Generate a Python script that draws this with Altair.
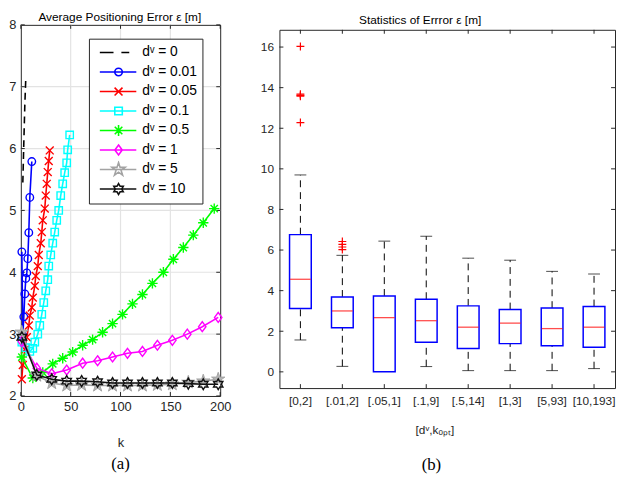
import altair as alt
import pandas as pd

# ---------------- data: panel (a) ----------------
SERIES = ["dᵛ = 0", "dᵛ = 0.01", "dᵛ = 0.05", "dᵛ = 0.1", "dᵛ = 0.5", "dᵛ = 1", "dᵛ = 5", "dᵛ = 10"]
COLORS = ["#000000", "#0000ff", "#ff0000", "#00ffff", "#00ff00", "#ff00ff", "#a3a3a3", "#111111"]

K_D0 = [2, 3, 4, 5]
V_D0 = [5.45, 6.1, 6.7, 7.15]
K_D001 = [1, 2, 3, 4, 5, 6, 7, 8, 9, 11]
V_D001 = [4.33, 2.98, 3.28, 3.65, 3.9, 3.99, 4.22, 4.64, 5.21, 5.79]
K_D005 = [1, 2, 4, 6, 8, 9, 11, 12, 14, 15, 17, 18, 20, 21, 22, 24, 25, 26, 27, 28, 29]
V_D005 = [2.27, 2.5, 2.75, 2.95, 3.14, 3.30, 3.43, 3.59, 3.78, 3.94, 4.10, 4.28, 4.47, 4.65,
          4.84, 5.03, 5.24, 5.43, 5.62, 5.8, 5.97]
K_D01 = [1, 5, 9, 12, 14, 17, 19, 21, 23, 25, 27, 28, 30, 32, 34, 36, 38, 40, 42, 44, 46, 47, 49]
V_D01 = [2.87, 2.78, 2.72, 2.77, 2.87, 3.0, 3.14, 3.32, 3.51, 3.70, 3.88, 4.10, 4.28, 4.47,
         4.65, 4.84, 5.0, 5.24, 5.43, 5.61, 5.77, 5.98, 6.22]
K_D05 = [1, 12, 22, 32, 42, 52, 62, 72, 82, 92, 102, 112, 122, 132, 143, 153, 163, 173, 183, 194]
V_D05 = [2.63, 2.29, 2.38, 2.52, 2.61, 2.71, 2.82, 2.91, 3.03, 3.17, 3.32, 3.49, 3.64, 3.82,
         4.0, 4.21, 4.40, 4.60, 4.80, 5.03]
K_D1 = [1, 16, 31, 46, 62, 77, 92, 107, 122, 137, 152, 167, 182, 198]
V_D1 = [2.88, 2.45, 2.36, 2.42, 2.53, 2.57, 2.63, 2.69, 2.72, 2.82, 2.90, 3.0, 3.12, 3.27]
K_D5 = [1, 16, 31, 46, 61, 77, 92, 107, 122, 137, 152, 168, 183, 198]
V_D5 = [3.03, 2.33, 2.21, 2.17, 2.18, 2.17, 2.17, 2.17, 2.17, 2.18, 2.19, 2.22, 2.24, 2.27]
K_D10 = [1, 16, 31, 46, 61, 77, 92, 107, 122, 137, 152, 168, 183, 198]
V_D10 = [2.95, 2.34, 2.27, 2.24, 2.24, 2.23, 2.21, 2.21, 2.21, 2.21, 2.21, 2.20, 2.19, 2.19]

X_TICKS = [0, 50, 100, 150, 200]
Y_TICKS = [2, 3, 4, 5, 6, 7, 8]
GRID_X = [50, 100, 150]
GRID_Y = [3, 4, 5, 6, 7]

# ---------------- data: panel (b) ----------------
BOX_CATS = ["[0,2]", "[.01,2]", "[.05,1]", "[.1,9]", "[.5,14]", "[1,3]", "[5,93]", "[10,193]"]
BOX_LO = [1.57, 0.27, 0.0, 0.26, 0.06, 0.06, 0.06, 0.16]
BOX_Q1 = [3.12, 2.17, 0.0, 1.46, 1.15, 1.39, 1.28, 1.21]
BOX_MED = [4.56, 3.0, 2.67, 2.52, 2.2, 2.4, 2.13, 2.2]
BOX_Q3 = [6.76, 3.69, 3.74, 3.58, 3.25, 3.07, 3.14, 3.22]
BOX_HI = [9.7, 5.74, 6.44, 6.68, 5.6, 5.5, 4.95, 4.82]
OUT_CAT = ["[0,2]", "[0,2]", "[0,2]", "[0,2]", "[0,2]", "[.01,2]", "[.01,2]", "[.01,2]", "[.01,2]"]
OUT_VAL = [16.03, 13.68, 13.62, 13.58, 12.28, 6.02, 6.15, 6.28, 6.42]
Y2_TICKS = [0, 2, 4, 6, 8, 10, 12, 14, 16]

# ---------------- styles ----------------
FONT = "Liberation Sans"
AXC = "#262626"
GRIDC = "#e3e3e3"

def poly(pts, closed=True):
    s = "M" + "L".join(f"{x:.3f},{y:.3f}" for x, y in pts)
    return s + ("Z" if closed else "")

STAR5 = [(0, -1), (0.225, -0.309), (0.951, -0.309), (0.363, 0.118), (0.588, 0.809), (0, 0.382),
         (-0.588, 0.809), (-0.363, 0.118), (-0.951, -0.309), (-0.225, -0.309)]
STAR6 = [(0, -1), (0.289, -0.5), (0.866, -0.5), (0.577, 0), (0.866, 0.5), (0.289, 0.5), (0, 1),
         (-0.289, 0.5), (-0.866, 0.5), (-0.577, 0), (-0.866, -0.5), (-0.289, -0.5)]
DIAM = [(0, -1), (0.75, 0), (0, 1), (-0.75, 0)]
SQ = [(-1, -1), (1, -1), (1, 1), (-1, 1)]
XSEGS = [[(-1, -1), (1, 1)], [(-1, 1), (1, -1)]]
ASTSEGS = [[(0, -1), (0, 1)], [(-1, 0), (1, 0)], [(-0.7, -0.7), (0.7, 0.7)], [(-0.7, 0.7), (0.7, -0.7)]]
PLUSSEGS = [[(-1, 0), (1, 0)], [(0, -1), (0, 1)]]

def segs_path(segs, s=1.0, cx=0.0):
    return "".join(poly([(cx + x * s, y * s) for x, y in seg], closed=False) for seg in segs)

def poly_path(pts, s=1.0, cx=0.0):
    return poly([(cx + x * s, y * s) for x, y in pts])

def circ_path(r, cx=0.0):
    return f"M{cx + r:.3f},0A{r:.3f},{r:.3f} 0 1,1 {cx - r:.3f},0A{r:.3f},{r:.3f} 0 1,1 {cx + r:.3f},0Z"

MARKERS = [
    None,
    ("circle", 58),
    (segs_path(XSEGS), 64),
    ("square", 56),
    (segs_path(ASTSEGS), 110),
    (poly_path(DIAM), 100),
    (poly_path(STAR5), 200),
    (poly_path(STAR6), 121),
]

U = 21.0
CX = 3 / U
LINE = "M-0.76,0L1,0"
LEG_PATHS = [
    "M-0.76,0L-0.1,0M0.28,0L0.66,0",
    LINE + circ_path(3.8 / U, CX),
    LINE + segs_path(XSEGS, 4 / U, CX),
    LINE + poly_path(SQ, 3.8 / U, CX),
    LINE + segs_path(ASTSEGS, 5.5 / U, CX),
    LINE + poly_path(DIAM, 5 / U, CX),
    LINE + poly_path(STAR5, 7 / U, CX),
    LINE + poly_path(STAR6, 5.5 / U, CX),
]

# ---------------- panel (a) ----------------
W1, H1 = 202, 376
xsc = alt.Scale(domain=[0, 200], nice=False, zero=False)
ysc = alt.Scale(domain=[2, 8], nice=False, zero=False)
AX_X = alt.Axis(values=X_TICKS, grid=False, ticks=False, domain=False, labelPadding=5, labelFlush=False,
                title="k", titlePadding=23, labelFontSize=13, titleFontSize=13)
AX_Y = alt.Axis(values=Y_TICKS, grid=False, ticks=False, domain=False, labelPadding=5,
                title=None, labelFontSize=13)

def XA():
    return alt.X("k:Q", scale=xsc, axis=AX_X)

def YA():
    return alt.Y("v:Q", scale=ysc, axis=AX_Y)

layers_a = [
    alt.Chart(pd.DataFrame({"k": GRID_X})).mark_rule(color=GRIDC, strokeWidth=1.2).encode(
        x=XA(), y=alt.value(0), y2=alt.value(H1)),
    alt.Chart(pd.DataFrame({"v": GRID_Y})).mark_rule(color=GRIDC, strokeWidth=1.2).encode(
        y=YA(), x=alt.value(0), x2=alt.value(W1)),
    alt.Chart(pd.DataFrame({"k": X_TICKS})).mark_rule(color=AXC).encode(
        x=XA(), y=alt.value(H1 - 4), y2=alt.value(H1)),
    alt.Chart(pd.DataFrame({"k": X_TICKS})).mark_rule(color=AXC).encode(
        x=XA(), y=alt.value(0), y2=alt.value(4)),
    alt.Chart(pd.DataFrame({"v": Y_TICKS})).mark_rule(color=AXC).encode(
        y=YA(), x=alt.value(0), x2=alt.value(4)),
    alt.Chart(pd.DataFrame({"v": Y_TICKS})).mark_rule(color=AXC).encode(
        y=YA(), x=alt.value(W1 - 4), x2=alt.value(W1)),
]

DATA_A = [(K_D0, V_D0), (K_D001, V_D001), (K_D005, V_D005), (K_D01, V_D01),
          (K_D05, V_D05), (K_D1, V_D1), (K_D5, V_D5), (K_D10, V_D10)]

for i, (ks, vs) in enumerate(DATA_A):
    df = pd.DataFrame({"k": ks, "v": vs})
    color = COLORS[i]
    if i == 0:
        layers_a.append(alt.Chart(df).mark_line(color=color, strokeWidth=1.6, strokeDash=[7, 5]).encode(
            x=XA(), y=YA()))
        continue
    layers_a.append(alt.Chart(df).mark_line(color=color, strokeWidth=1.6).encode(x=XA(), y=YA()))
    shape, size = MARKERS[i]
    if i == 6:
        pm = alt.Chart(df).mark_point(shape=shape, size=size, filled=True, fill="#b5b5b5",
                                      stroke="#a3a3a3", strokeWidth=1, opacity=1)
    else:
        pm = alt.Chart(df).mark_point(shape=shape, size=size, filled=False, color=color,
                                      strokeWidth=1.4, opacity=1)
    layers_a.append(pm.encode(x=XA(), y=YA()))

LEG = alt.Legend(title=None, orient="none", legendX=69, legendY=14, symbolSize=int(U * 2) ** 2,
                 symbolStrokeWidth=1.6, symbolOpacity=1, symbolFillColor="transparent",
                 labelFontSize=14, labelFont=FONT, labelColor="#000000", labelOffset=5,
                 clipHeight=18, rowPadding=1.76, padding=5, strokeColor=AXC, fillColor="white",
                 labelLimit=200)
leg_df = pd.DataFrame({"series": SERIES})
layers_a.append(
    alt.Chart(leg_df).mark_point(opacity=0, filled=False, strokeWidth=1.6).encode(
        shape=alt.Shape("series:N", scale=alt.Scale(domain=SERIES, range=LEG_PATHS), legend=LEG),
        stroke=alt.Stroke("series:N", scale=alt.Scale(domain=SERIES, range=COLORS), legend=LEG),
    )
)

panel_a = alt.layer(*layers_a).properties(
    width=W1, height=H1,
    title=alt.TitleParams("(a)", orient="bottom", anchor="middle", font="Liberation Serif",
                          fontSize=17, offset=7),
)

# ---------------- panel (b) ----------------
W2, H2 = 340, 363
ysc2 = alt.Scale(domain=[-0.8, 16.85], nice=False, zero=False)
xsc2 = alt.Scale(domain=BOX_CATS, paddingInner=0, paddingOuter=0)
AX_XB = alt.Axis(labelAngle=0, ticks=False, domain=False, labelPadding=8, title="[dᵛ,kₒₚₜ]",
                 titlePadding=18, labelFontSize=12, titleFontSize=12, titleX=157, titleAlign="center")
AX_YB = alt.Axis(values=Y2_TICKS, grid=False, ticks=False, domain=False, labelPadding=6,
                 title=None, labelFontSize=12)

def XB():
    return alt.X("cat:N", scale=xsc2, axis=AX_XB, sort=BOX_CATS)

def YB(field):
    return alt.Y(f"{field}:Q", scale=ysc2, axis=AX_YB)

box_df = pd.DataFrame({"cat": BOX_CATS, "lo": BOX_LO, "q1": BOX_Q1, "med": BOX_MED,
                       "q3": BOX_Q3, "hi": BOX_HI})
out_df = pd.DataFrame({"cat": OUT_CAT, "val": OUT_VAL})
base_b = alt.Chart(box_df)

layers_b = [
    base_b.transform_filter("datum.lo < datum.q1").mark_rule(color="black", strokeDash=[7, 5]).encode(
        x=XB(), y=YB("lo"), y2="q1:Q"),
    base_b.mark_rule(color="black", strokeDash=[7, 5]).encode(x=XB(), y=YB("q3"), y2="hi:Q"),
    base_b.transform_filter("datum.lo < datum.q1").mark_tick(color="black", size=12, thickness=1).encode(
        x=XB(), y=YB("lo")),
    base_b.mark_tick(color="black", size=12, thickness=1).encode(x=XB(), y=YB("hi")),
    base_b.mark_bar(size=22, fill="white", stroke="#0000ff", strokeWidth=1.5).encode(
        x=XB(), y=YB("q1"), y2="q3:Q"),
    base_b.mark_tick(color="#ff0000", size=21, thickness=1.3).encode(x=XB(), y=YB("med")),
    alt.Chart(out_df).mark_point(shape=segs_path(PLUSSEGS), size=64, filled=False, color="#ff0000",
                                 strokeWidth=1.2, opacity=1).encode(x=XB(), y=YB("val")),
    alt.Chart(pd.DataFrame({"t": Y2_TICKS})).mark_rule(color=AXC).encode(
        y=YB("t"), x=alt.value(0), x2=alt.value(4)),
    alt.Chart(pd.DataFrame({"t": Y2_TICKS})).mark_rule(color=AXC).encode(
        y=YB("t"), x=alt.value(W2 - 4), x2=alt.value(W2)),
    base_b.mark_rule(color=AXC).encode(x=XB(), y=alt.value(H2 - 4), y2=alt.value(H2)),
    base_b.mark_rule(color=AXC).encode(x=XB(), y=alt.value(0), y2=alt.value(4)),
]

panel_b = alt.layer(*layers_b).properties(
    width=W2, height=H2,
    title=alt.TitleParams("(b)", orient="bottom", anchor="middle", font="Liberation Serif",
                          fontSize=17, offset=22, dx=-16),
)

# empty spacer that lowers panel (b) a little, as in the reference
spacer = (
    alt.Chart(pd.DataFrame({"z": [0]}), view=alt.ViewBackground(strokeOpacity=0, stroke="transparent"))
    .transform_filter("datum.z > 1")
    .mark_point()
    .properties(width=W2, height=1)
)

left = alt.vconcat(panel_a, title=alt.TitleParams("Average Positioning Error ε [m]", fontSize=12,
                                                  anchor="middle", offset=-6))
right = alt.vconcat(spacer, panel_b, spacing=3,
                    title=alt.TitleParams("Statistics of Errror ε [m]", fontSize=12, anchor="middle",
                                          offset=-2, dx=-18))

chart = (
    alt.hconcat(left, right, spacing=28)
    .properties(padding={"left": 0, "top": 0, "right": 0, "bottom": 0})
    .configure_view(stroke=AXC, strokeWidth=1)
    .configure_axis(labelFont=FONT, titleFont=FONT, labelColor=AXC, titleColor=AXC,
                    titleFontWeight="normal")
    .configure_title(font=FONT, fontWeight="normal", color="#000000")
)

chart.save("out.html", embed_options={"renderer": "svg", "actions": False})
